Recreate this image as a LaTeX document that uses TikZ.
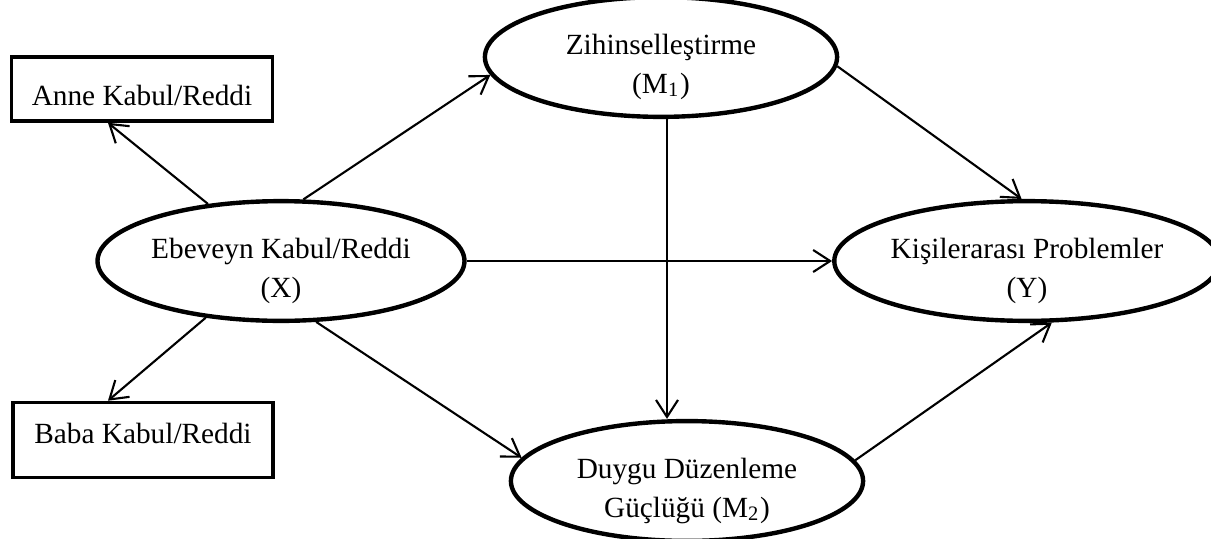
\documentclass[tikz,border=0pt]{standalone}
\usepackage{fontspec}
\setmainfont{Liberation Serif}
\usetikzlibrary{shapes.geometric,arrows.meta}
\newcommand\lstrut{\rule{0pt}{11.2pt}}
\begin{document}
\begin{tikzpicture}[x=0.01cm,y=-0.01cm,
  every node/.style={font=\fontsize{8.33}{11.1}\selectfont, align=center, inner sep=0pt},
  latent/.style={ellipse, draw, line width=1.25pt, minimum width=3.52cm, minimum height=1.13cm},
  obs/.style={rectangle, draw, line width=1pt},
  arr/.style={-{Straight Barb[length=0.17cm,width=0.22cm,line width=0.6pt]}, line width=0.6pt}]
\useasboundingbox (0,0) rectangle (1211,539);
\node[obs, minimum width=2.61cm, minimum height=0.64cm, text height=0.36cm, text depth=0.04cm] (A) at (142,89) {Anne Kabul/Reddi};
\node[obs, minimum width=2.60cm, minimum height=0.75cm, text height=0.20cm, text depth=0.14cm] (B) at (143,440) {Baba Kabul/Reddi};
\node[latent] (E) at (281,261) {\lstrut Ebeveyn Kabul/Reddi\\(X)};
\node[latent] (Z) at (661,57) {\lstrut Zihinselleştirme\\(M\textsubscript{1})};
\node[latent] (K) at (1027,261) {\lstrut Kişilerarası Problemler\\(Y)};
\node[latent] (D) at (687,481) {\lstrut Duygu Düzenleme\\Güçlüğü (M\textsubscript{2})};
\draw[arr] (E.142) -- ([xshift=-0.34cm]A.south);
\draw[arr] (E.217) -- ([xshift=-0.35cm]B.north);
\draw[arr] (E.70) -- (Z.186);
\draw[arr] (E.300) -- (D.172);
\draw[arr] (E.east) -- (K.west);
\draw[arr] ([xshift=0.06cm]Z.south) -- ([xshift=0.06cm]Z.south |- D.north);
\draw[arr] (Z.357) -- (K.95);
\draw[arr] (D.7) -- (K.292);
\end{tikzpicture}
\end{document}
